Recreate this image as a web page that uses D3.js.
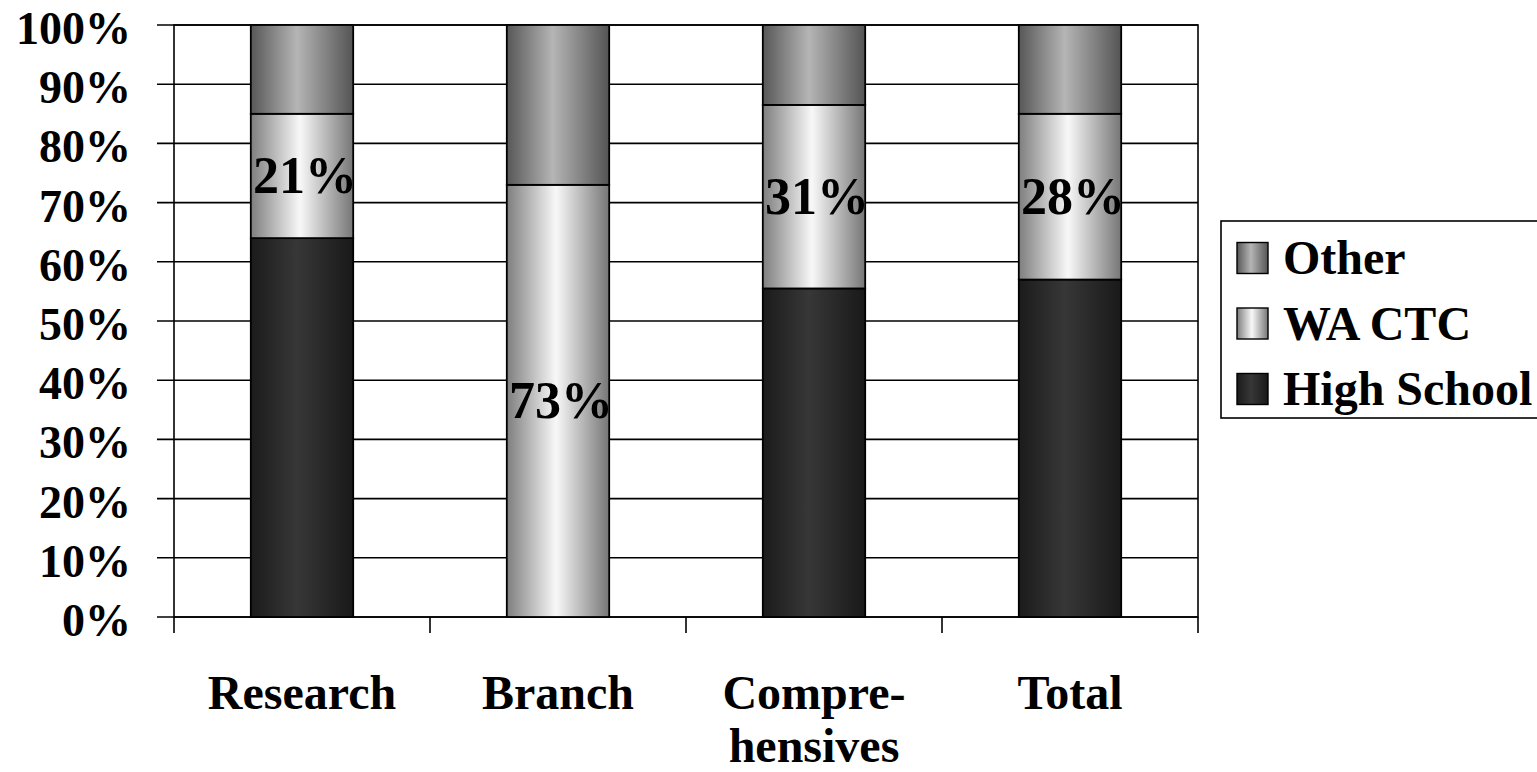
<!DOCTYPE html>
<html>
<head>
<meta charset="utf-8">
<script src="https://cdn.jsdelivr.net/npm/d3@7/dist/d3.min.js"></script>
<style>
  html, body { margin: 0; padding: 0; background: #fff; }
  svg { display: block; }
  text { font-family: "Liberation Serif", "Times New Roman", serif; font-weight: bold; fill: #000; }
</style>
</head>
<body>
<svg id="chart" width="1537" height="772"></svg>
<script>
// Share of students by prior institution, per campus type
const categories = ["Research", "Branch", "Compre-\nhensives", "Total"];
const seriesNames = ["High School", "WA CTC", "Other"];
const highSchool = [64, 0, 55.5, 57];
const waCtc = [21, 73, 31, 28];
const other = [15, 27, 13.5, 15];
const yTicks = [0, 10, 20, 30, 40, 50, 60, 70, 80, 90, 100];

const svg = d3.select("#chart");
const plot = { left: 174, right: 1198, top: 25, bottom: 617 };

const rows = categories.map((c, i) => ({
  cat: c, "High School": highSchool[i], "WA CTC": waCtc[i], "Other": other[i]
}));
const stacked = d3.stack().keys(seriesNames)(rows);

const x = d3.scaleBand().domain(categories)
  .range([plot.left, plot.right]).paddingInner(0.6).paddingOuter(0.3);
const xEdge = d3.scaleBand().domain(categories).range([plot.left, plot.right]);
const y = d3.scaleLinear().domain([0, 100]).range([plot.bottom, plot.top]);

// horizontal shading for each series (cylinder-like bars)
const shades = {
  "High School": [["0%", "#1b1b1b"], ["45%", "#373737"], ["100%", "#191919"]],
  "WA CTC": [["0%", "#7e7e7e"], ["48%", "#f8f8f8"], ["100%", "#767676"]],
  "Other": [["0%", "#575757"], ["45%", "#b5b5b5"], ["100%", "#545454"]]
};
const defs = svg.append("defs");
const gradId = name => "grad-" + name.replace(/\s+/g, "-");
Object.entries(shades).forEach(([name, stops]) => {
  const g = defs.append("linearGradient").attr("id", gradId(name))
    .attr("x1", "0").attr("x2", "1").attr("y1", "0").attr("y2", "0");
  stops.forEach(([o, c]) => g.append("stop").attr("offset", o).attr("stop-color", c));
});

// gridlines
svg.append("g").selectAll("line").data(yTicks).join("line")
  .attr("x1", plot.left - 17).attr("x2", plot.right)
  .attr("y1", d => y(d)).attr("y2", d => y(d))
  .attr("stroke", "#000").attr("stroke-width", 1.6);

// plot frame
svg.append("rect")
  .attr("x", plot.left).attr("y", plot.top)
  .attr("width", plot.right - plot.left).attr("height", plot.bottom - plot.top)
  .attr("fill", "none").attr("stroke", "#000").attr("stroke-width", 1.6);

// category tick marks along the bottom
const edges = categories.map(c => xEdge(c)).concat([plot.right]);
svg.append("g").selectAll("line").data(edges).join("line")
  .attr("x1", d => d).attr("x2", d => d)
  .attr("y1", plot.bottom).attr("y2", plot.bottom + 16)
  .attr("stroke", "#000").attr("stroke-width", 1.6);

// y tick labels
svg.append("g").selectAll("text").data(yTicks).join("text")
  .attr("x", 131).attr("y", d => y(d) + 19)
  .attr("text-anchor", "end").style("font-size", "46px")
  .text(d => d + "%");

// stacked bars
const layers = svg.append("g").selectAll("g").data(stacked).join("g")
  .attr("fill", d => `url(#${gradId(d.key)})`);
layers.selectAll("rect").data(d => d.filter(s => s[1] - s[0] > 0)).join("rect")
  .attr("x", d => x(d.data.cat))
  .attr("width", x.bandwidth())
  .attr("y", d => y(d[1]))
  .attr("height", d => y(d[0]) - y(d[1]))
  .attr("stroke", "#000").attr("stroke-width", 1.8);

// value labels on the WA CTC segments
const wa = stacked.find(s => s.key === "WA CTC");
svg.append("g").selectAll("text").data(wa).join("text")
  .attr("x", d => x(d.data.cat) + x.bandwidth() / 2 + 3)
  .attr("y", d => (y(d[0]) + y(d[1])) / 2 + 17)
  .attr("text-anchor", "middle").style("font-size", "52px")
  .text(d => Math.round(d[1] - d[0]) + "%");

// category labels (multi-line where the name wraps)
const catLabels = svg.append("g").selectAll("text").data(categories).join("text")
  .attr("x", d => x(d) + x.bandwidth() / 2)
  .attr("y", 709)
  .attr("text-anchor", "middle").style("font-size", "48px");
catLabels.selectAll("tspan").data(d => d.split("\n")).join("tspan")
  .attr("x", function () { return d3.select(this.parentNode).attr("x"); })
  .attr("dy", (d, i) => i === 0 ? 0 : 53)
  .text(d => d);

// legend
const legend = svg.append("g");
legend.append("rect")
  .attr("x", 1221).attr("y", 221).attr("width", 330).attr("height", 197)
  .attr("fill", "#fff").attr("stroke", "#000").attr("stroke-width", 1.6);
const legendOrder = seriesNames.slice().reverse();
const ly = d3.scalePoint().domain(legendOrder).range([258, 389]);
const items = legend.selectAll("g.item").data(legendOrder).join("g").attr("class", "item");
items.append("rect")
  .attr("x", 1237).attr("y", d => ly(d) - 15.5)
  .attr("width", 31).attr("height", 31)
  .attr("fill", d => `url(#${gradId(d)})`)
  .attr("stroke", "#000").attr("stroke-width", 1.4);
items.append("text")
  .attr("x", 1283).attr("y", d => ly(d) + 16)
  .style("font-size", "48px")
  .text(d => d);
</script>
</body>
</html>
